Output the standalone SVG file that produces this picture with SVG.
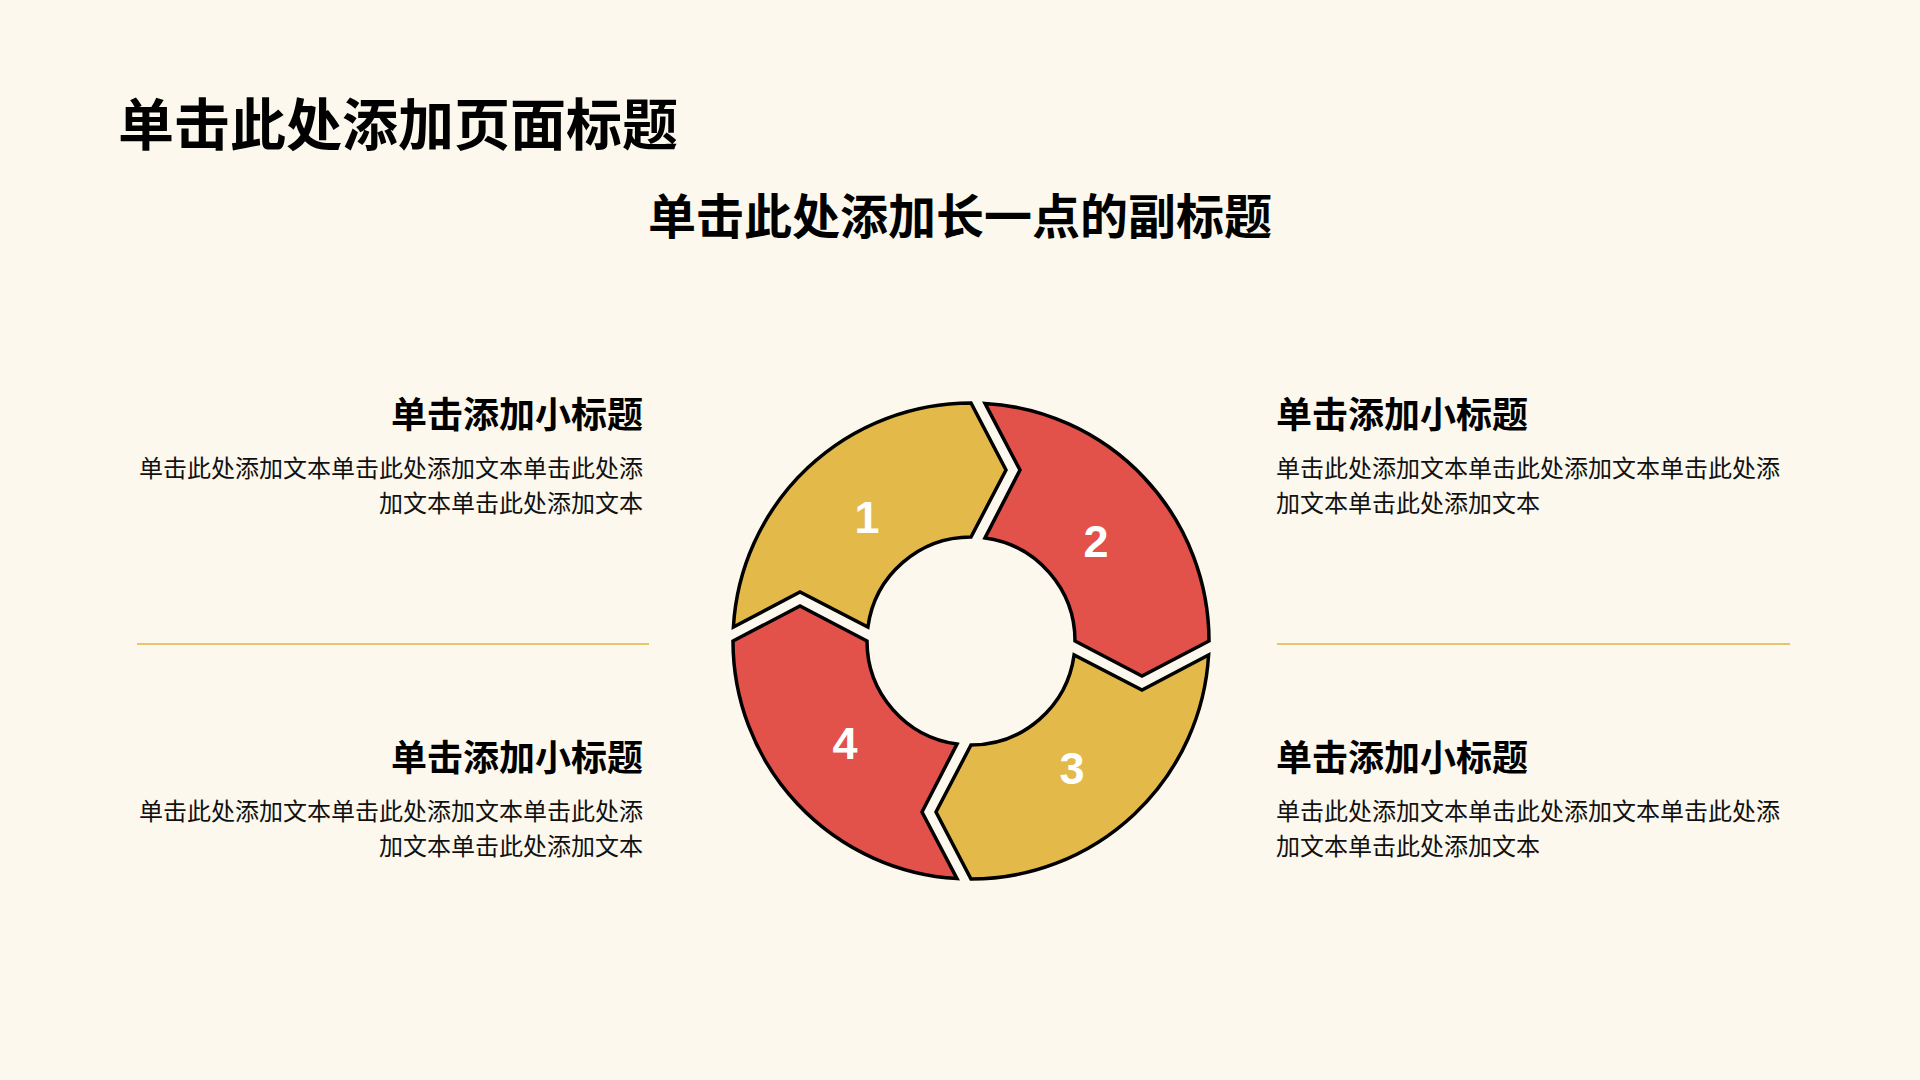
<svg xmlns="http://www.w3.org/2000/svg" width="1920" height="1080" viewBox="0 0 1920 1080">
<defs>
<style>
.bg{fill:#FCF8ED}
.seg{stroke:#000;stroke-width:3.5;stroke-linejoin:miter}
.y{fill:#E3BA4A}
.r{fill:#E2514A}
.num{font-family:"Liberation Sans",Arial,sans-serif;font-weight:bold;font-size:45px;fill:#fff;text-anchor:middle}
.cjk{font-family:"Noto Sans CJK SC","Noto Sans",sans-serif;fill:#000}
.title{font-size:56px;font-weight:bold}
.sub{font-size:48px;font-weight:bold;text-anchor:middle}
.head{font-size:36px;font-weight:bold}
.body{font-size:24px;fill:#111}
.end{text-anchor:end}
.div{stroke:#E8C46A;stroke-width:2}
</style>
<path id="segShape" d="M733.4 627 A238 238 0 0 1 971 403 L1006 470 L971 537 A104 104 0 0 0 867.9 627 L800 592 Z"/>
</defs>
<rect class="bg" x="0" y="0" width="1920" height="1080"/>
<g id="title"><text class="cjk title" x="118" y="145">单击此处添加页面标题</text></g>
<g id="subtitle"><text class="cjk sub" x="960" y="234">单击此处添加长一点的副标题</text></g>
<g id="connectors">
<line class="div" x1="137" y1="644" x2="649" y2="644"/>
<line class="div" x1="1277" y1="644" x2="1790" y2="644"/>
</g>
<g id="segment1"><use href="#segShape" class="seg y"/><text class="num" x="867" y="533">1</text></g>
<g id="segment2"><use href="#segShape" class="seg r" transform="rotate(90 971 641)"/><text class="num" x="1096" y="557">2</text></g>
<g id="segment3"><use href="#segShape" class="seg y" transform="rotate(180 971 641)"/><text class="num" x="1072" y="784">3</text></g>
<g id="segment4"><use href="#segShape" class="seg r" transform="rotate(270 971 641)"/><text class="num" x="845" y="759">4</text></g>
<g id="block-top-left">
<text class="cjk head end" x="643" y="428">单击添加小标题</text>
<text class="cjk body end" x="643" y="477">单击此处添加文本单击此处添加文本单击此处添</text>
<text class="cjk body end" x="643" y="512">加文本单击此处添加文本</text>
</g>
<g id="block-top-right">
<text class="cjk head" x="1276" y="428">单击添加小标题</text>
<text class="cjk body" x="1276" y="477">单击此处添加文本单击此处添加文本单击此处添</text>
<text class="cjk body" x="1276" y="512">加文本单击此处添加文本</text>
</g>
<g id="block-bottom-left">
<text class="cjk head end" x="643" y="771">单击添加小标题</text>
<text class="cjk body end" x="643" y="820">单击此处添加文本单击此处添加文本单击此处添</text>
<text class="cjk body end" x="643" y="855">加文本单击此处添加文本</text>
</g>
<g id="block-bottom-right">
<text class="cjk head" x="1276" y="771">单击添加小标题</text>
<text class="cjk body" x="1276" y="820">单击此处添加文本单击此处添加文本单击此处添</text>
<text class="cjk body" x="1276" y="855">加文本单击此处添加文本</text>
</g>
</svg>
